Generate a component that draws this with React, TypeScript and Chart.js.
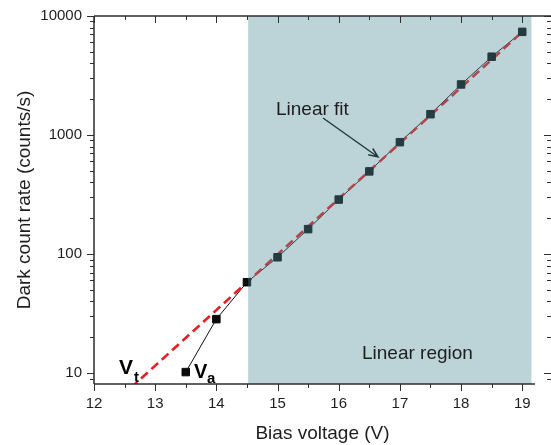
import React, { useEffect, useRef } from 'react';
import { Chart, registerables } from 'chart.js';

Chart.register(...registerables);

// ---- data ----
const biasVoltage = [13.5, 14, 14.5, 15, 15.5, 16, 16.5, 17, 17.5, 18, 18.5, 19];
const darkCountRate = [10.2, 28.4, 58, 94, 162, 287, 495, 871, 1496, 2660, 4550, 7360];
const fitVoltage = [12.6, 19];
const fitRate = [7.5, 7360];
const xTickValues = [12, 13, 14, 15, 16, 17, 18, 19];
const yTickValues = [10, 100, 1000, 10000];
const linearRegion = [14.52, 19.15];
const X_MIN = 12;
const X_MAX = 19.47;
const Y_MIN = 8.1;
const Y_MAX = 10000;

const FONT = "'Liberation Sans', Arial, sans-serif";
const AXIS_COLOR = '#2e2e2e';
const TEXT_COLOR = '#1e1e1e';

const overlayPlugin = {
  id: 'overlay',
  afterDatasetsDraw(chart: any) {
    const { ctx, chartArea: a } = chart;
    const xs = chart.scales.x;
    const ys = chart.scales.y;
    ctx.save();

    // shaded linear region (drawn over the data, semi-transparent)
    const x0 = xs.getPixelForValue(linearRegion[0]);
    const x1 = xs.getPixelForValue(linearRegion[1]);
    ctx.fillStyle = 'rgba(78,140,150,0.38)';
    ctx.fillRect(x0, a.top, x1 - x0, a.bottom - a.top);

    // annotations
    ctx.fillStyle = TEXT_COLOR;
    ctx.textBaseline = 'alphabetic';
    ctx.textAlign = 'left';
    ctx.font = `19px ${FONT}`;
    ctx.fillText('Linear fit', 276, 115);
    ctx.fillText('Linear region', 362, 359);

    ctx.fillStyle = '#000';
    ctx.font = `bold 21px ${FONT}`;
    ctx.fillText('V', 119, 374);
    ctx.font = `bold 15px ${FONT}`;
    ctx.fillText('t', 134, 382);
    ctx.font = `bold 20px ${FONT}`;
    ctx.fillText('V', 194, 378);
    ctx.font = `bold 15px ${FONT}`;
    ctx.fillText('a', 207, 383);

    // arrow
    const ax0 = 323, ay0 = 118, ax1 = 378, ay1 = 157;
    ctx.strokeStyle = '#24393b';
    ctx.lineWidth = 1.5;
    ctx.beginPath();
    ctx.moveTo(ax0, ay0);
    ctx.lineTo(ax1, ay1);
    const ang = Math.atan2(ay1 - ay0, ax1 - ax0);
    const hl = 10;
    ctx.moveTo(ax1 - hl * Math.cos(ang - 0.4), ay1 - hl * Math.sin(ang - 0.4));
    ctx.lineTo(ax1, ay1);
    ctx.lineTo(ax1 - hl * Math.cos(ang + 0.4), ay1 - hl * Math.sin(ang + 0.4));
    ctx.stroke();

    // axes frame
    ctx.strokeStyle = AXIS_COLOR;
    ctx.lineWidth = 1.5;
    ctx.beginPath();
    ctx.moveTo(a.left, a.top);
    ctx.lineTo(a.left, a.bottom);
    ctx.moveTo(a.left, a.bottom);
    ctx.lineTo(a.right - 16, a.bottom);
    ctx.moveTo(a.left, a.top);
    ctx.lineTo(a.right, a.top);
    ctx.stroke();

    ctx.lineWidth = 1;
    ctx.beginPath();
    // x ticks
    const xMinor = xTickValues.map((v) => v + 0.5);
    xTickValues.forEach((v) => {
      const px = Math.round(xs.getPixelForValue(v)) + 0.5;
      ctx.moveTo(px, a.bottom);
      ctx.lineTo(px, a.bottom + 7);
      ctx.moveTo(px, a.top);
      ctx.lineTo(px, a.top + 7);
    });
    xMinor.forEach((v) => {
      if (v > X_MAX) return;
      const px = Math.round(xs.getPixelForValue(v)) + 0.5;
      if (px < a.right - 16) {
        ctx.moveTo(px, a.bottom);
        ctx.lineTo(px, a.bottom + 4);
      }
      ctx.moveTo(px, a.top);
      ctx.lineTo(px, a.top + 4);
    });
    // y ticks
    yTickValues.forEach((v) => {
      const py = Math.round(ys.getPixelForValue(v)) + 0.5;
      ctx.moveTo(a.left, py);
      ctx.lineTo(a.left - 7, py);
      ctx.moveTo(a.right, py);
      ctx.lineTo(a.right - 7, py);
    });
    const minors: number[] = [];
    [1, 10, 100, 1000].forEach((dec) => {
      for (let m = 2; m <= 9; m++) {
        const v = m * dec;
        if (v > Y_MIN && v < Y_MAX) minors.push(v);
      }
    });
    minors.forEach((v) => {
      const py = Math.round(ys.getPixelForValue(v)) + 0.5;
      ctx.moveTo(a.left, py);
      ctx.lineTo(a.left - 4, py);
      ctx.moveTo(a.right, py);
      ctx.lineTo(a.right - 4, py);
    });
    ctx.stroke();
    ctx.restore();
  },
};

export default function App() {
  const canvasRef = useRef<HTMLCanvasElement | null>(null);

  useEffect(() => {
    if (!canvasRef.current) return;
    const points = biasVoltage.map((x, i) => ({ x, y: darkCountRate[i] }));
    const fit = fitVoltage.map((x, i) => ({ x, y: fitRate[i] }));
    const chart = new Chart(canvasRef.current, {
      type: 'line',
      data: {
        datasets: [
          {
            label: 'Measured',
            data: points,
            showLine: false,
            pointStyle: 'rect',
            pointRadius: 5.3,
            pointBackgroundColor: '#0a0a0a',
            pointBorderColor: '#0a0a0a',
            pointBorderWidth: 1,
            borderColor: '#0a0a0a',
          },
          {
            label: 'Linear fit',
            data: fit,
            borderColor: '#ec1c24',
            borderWidth: 2.6,
            borderDash: [9, 5],
            pointRadius: 0,
            fill: false,
          },
          {
            label: 'Line',
            data: points,
            borderColor: '#111',
            borderWidth: 1,
            pointRadius: 0,
            fill: false,
          },
        ],
      },
      options: {
        animation: false,
        responsive: true,
        maintainAspectRatio: false,
        layout: { autoPadding: false, padding: { top: 16, right: 0, left: 0, bottom: 0 } },
        plugins: {
          legend: { display: false },
          tooltip: { enabled: false },
        },
        scales: {
          x: {
            type: 'linear',
            min: X_MIN,
            max: X_MAX,
            grid: { display: false, drawTicks: false },
            border: { display: false },
            ticks: {
              padding: 11,
              color: TEXT_COLOR,
              font: { family: FONT, size: 15 },
              maxRotation: 0,
              autoSkip: false,
              callback: (v: any) => String(v),
            },
            afterBuildTicks: (scale: any) => {
              scale.ticks = xTickValues.map((value) => ({ value }));
            },
            afterFit: (scale: any) => {
              scale.height = 61;
              scale.paddingLeft = 0;
              scale.paddingRight = 0;
            },
            title: {
              display: true,
              text: 'Bias voltage (V)',
              color: TEXT_COLOR,
              font: { family: FONT, size: 19 },
              padding: { top: 0, bottom: 0 },
            },
          },
          y: {
            type: 'logarithmic',
            min: Y_MIN,
            max: Y_MAX,
            grid: { display: false, drawTicks: false },
            border: { display: false },
            ticks: {
              padding: 12,
              color: TEXT_COLOR,
              font: { family: FONT, size: 15 },
              autoSkip: false,
              callback: (v: any) => String(v),
            },
            afterBuildTicks: (scale: any) => {
              scale.ticks = yTickValues.map((value) => ({ value }));
            },
            afterFit: (scale: any) => {
              scale.width = 94;
              scale.paddingTop = 0;
              scale.paddingBottom = 0;
            },
            title: {
              display: true,
              text: 'Dark count rate (counts/s)',
              color: TEXT_COLOR,
              font: { family: FONT, size: 19 },
              padding: { top: 13, bottom: 0 },
            },
          },
        },
      },
      plugins: [overlayPlugin],
    });
    return () => chart.destroy();
  }, []);

  return (
    <div style={{ position: 'fixed', left: 0, top: 0, width: 551, height: 445, background: '#fff' }}>
      <canvas ref={canvasRef} />
    </div>
  );
}
